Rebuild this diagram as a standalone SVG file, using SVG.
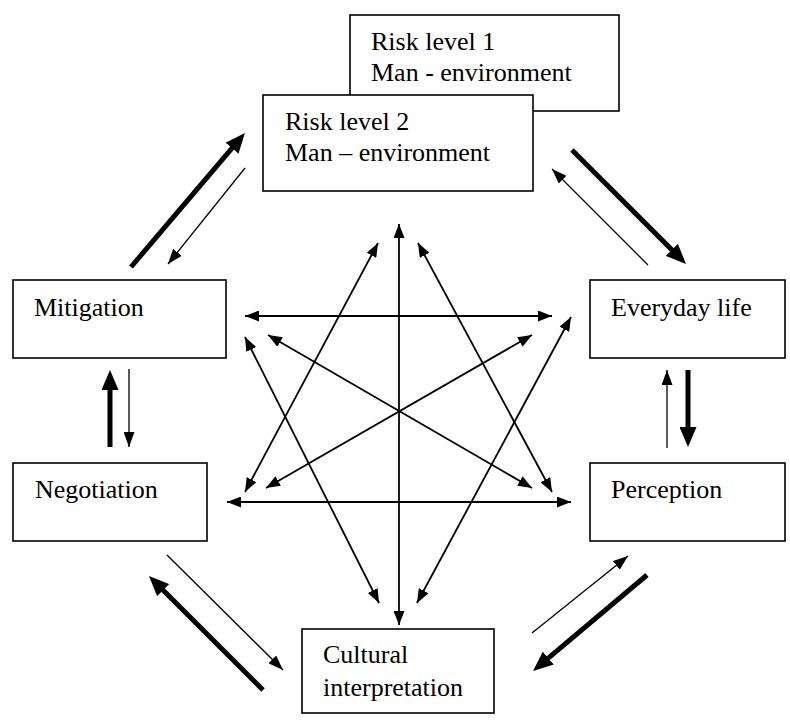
<svg xmlns="http://www.w3.org/2000/svg" width="790" height="720" viewBox="0 0 790 720">
  <style>
    .box { fill: #ffffff; stroke: #000000; stroke-width: 1.6; }
    .lbl { font-family: 'Liberation Serif', 'Times New Roman', Times, 'DejaVu Serif', serif; font-size: 26px; fill: #000000; }
    .thin { stroke: #000000; stroke-width: 1.3; fill: none; marker-end: url(#headThin); }
    .thick { stroke: #000000; stroke-width: 5; fill: none; marker-end: url(#headThick); }
    .dbl { stroke: #000000; stroke-width: 1.8; fill: none; marker-start: url(#headDbl); marker-end: url(#headDbl); }
  </style>
  <defs>
    <marker id="headThin" markerUnits="userSpaceOnUse" viewBox="0 0 15 11" refX="15" refY="5.5" markerWidth="15" markerHeight="11" orient="auto">
      <path d="M0,0 L15,5.5 L0,11 z" fill="#000000"/>
    </marker>
    <marker id="headDbl" markerUnits="userSpaceOnUse" viewBox="0 0 14 11" refX="14" refY="5.5" markerWidth="14" markerHeight="11" orient="auto-start-reverse">
      <path d="M0,0 L14,5.5 L0,11 z" fill="#000000"/>
    </marker>
    <marker id="headThick" markerUnits="userSpaceOnUse" viewBox="0 0 20 17" refX="2" refY="8.5" markerWidth="20" markerHeight="17" orient="auto">
      <path d="M0,0 L20,8.5 L0,17 z" fill="#000000"/>
    </marker>
  </defs>

  <g id="risk1">
    <rect class="box" x="350" y="15" width="269" height="96"/>
    <text class="lbl" font-family="Liberation Serif, serif" x="371" y="50">Risk level 1</text>
    <text class="lbl" font-family="Liberation Serif, serif" x="371" y="81">Man - environment</text>
  </g>
  <g id="risk2">
    <rect class="box" x="263" y="95" width="270" height="96"/>
    <text class="lbl" x="285" y="130">Risk level 2</text>
    <text class="lbl" x="285" y="161">Man – environment</text>
  </g>
  <g id="mitigation">
    <rect class="box" x="13" y="280" width="213" height="78"/>
    <text class="lbl" x="34" y="316">Mitigation</text>
  </g>
  <g id="everyday">
    <rect class="box" x="590" y="280" width="195" height="78"/>
    <text class="lbl" x="611" y="316">Everyday life</text>
  </g>
  <g id="negotiation">
    <rect class="box" x="13" y="463" width="194" height="78"/>
    <text class="lbl" x="35" y="498">Negotiation</text>
  </g>
  <g id="perception">
    <rect class="box" x="590" y="463" width="195" height="78"/>
    <text class="lbl" x="611" y="498">Perception</text>
  </g>
  <g id="cultural">
    <rect class="box" x="302" y="629" width="192" height="84"/>
    <text class="lbl" x="323" y="663">Cultural</text>
    <text class="lbl" x="323" y="696">interpretation</text>
  </g>

  <g id="connectors">
    <line class="thick" x1="131" y1="267" x2="233.3" y2="146.7"/>
    <line class="thick" x1="572" y1="150" x2="673.3" y2="251.3"/>
    <line class="thick" x1="688" y1="370" x2="688" y2="429"/>
    <line class="thick" x1="647" y1="575" x2="546.8" y2="659.4"/>
    <line class="thick" x1="263" y1="690" x2="161.7" y2="588.7"/>
    <line class="thick" x1="110" y1="447" x2="110" y2="388"/>
    <line class="thin" x1="245" y1="168" x2="168" y2="264"/>
    <line class="thin" x1="648" y1="265" x2="552" y2="169"/>
    <line class="thin" x1="667" y1="448" x2="667" y2="370"/>
    <line class="thin" x1="532" y1="633" x2="628" y2="556"/>
    <line class="thin" x1="167" y1="555" x2="283" y2="670"/>
    <line class="thin" x1="129" y1="369" x2="129" y2="447"/>
    <line class="dbl" x1="399" y1="224" x2="399" y2="625"/>
    <line class="dbl" x1="245" y1="316" x2="552" y2="316"/>
    <line class="dbl" x1="227" y1="502" x2="571" y2="502"/>
    <line class="dbl" x1="268" y1="335" x2="532" y2="488"/>
    <line class="dbl" x1="266" y1="488" x2="532" y2="335"/>
    <line class="dbl" x1="378" y1="243" x2="245" y2="492"/>
    <line class="dbl" x1="418" y1="243" x2="552" y2="492"/>
    <line class="dbl" x1="245" y1="337" x2="379" y2="603"/>
    <line class="dbl" x1="571" y1="317" x2="417" y2="603"/>
  </g>
</svg>
